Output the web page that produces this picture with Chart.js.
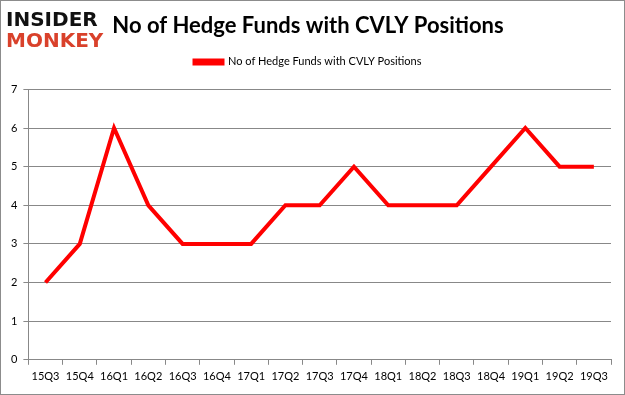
<!DOCTYPE html>
<html lang="en">
<head>
  <meta charset="UTF-8" />
  <title>No of Hedge Funds with CVLY Positions</title>
  <script src="https://cdn.jsdelivr.net/npm/chart.js"></script>
  <style>
    html, body { margin: 0; padding: 0; background: #fff; }
    #wrap {
      position: relative;
      width: 623px; height: 393px;
      border: 1px solid #8c8c8c;
      background: #fff;
    }
    #logo {
      position: absolute; left: 5px; top: 8px;
      font-family: "DejaVu Sans", sans-serif; font-weight: bold;
      font-size: 20px; line-height: 21px; letter-spacing: 0px;
    }
    #logo .a { color: #111; }
    #logo .b { color: #d9412b; }
    #grafico { position: absolute; left: 0; top: 0; }
  </style>
</head>
<body>

<div id="wrap">
  <canvas id="grafico" width="623" height="393"></canvas>
  <div id="logo"><div class="a">INSIDER</div><div class="b">MONKEY</div></div>
</div>

<script>
  const trimestres = ["15Q3","15Q4","16Q1","16Q2","16Q3","16Q4","17Q1","17Q2","17Q3","17Q4","18Q1","18Q2","18Q3","18Q4","19Q1","19Q2","19Q3"];
  const fundos = [2, 3, 6, 4, 3, 3, 3, 4, 4, 5, 4, 4, 4, 5, 6, 5, 5];
  const ticksY = [0, 1, 2, 3, 4, 5, 6, 7];
  const nomeSerie = "No of Hedge Funds with CVLY Positions";

  const fonte = "Lato, 'Open Sans', sans-serif";

  // espaço extra abaixo da legenda
  const espacoLegenda = {
    id: "espacoLegenda",
    beforeInit(chart) {
      const fitOriginal = chart.legend.fit;
      chart.legend.fit = function () {
        fitOriginal.bind(chart.legend)();
        this.height += 12;
      };
    }
  };

  const ctx = document.getElementById("grafico").getContext("2d");
  new Chart(ctx, {
    type: "line",
    data: {
      labels: trimestres,
      datasets: [{
        label: nomeSerie,
        data: fundos,
        borderColor: "#ff0000",
        backgroundColor: "#ff0000",
        borderWidth: 4,
        pointRadius: 0,
        tension: 0
      }]
    },
    options: {
      responsive: false,
      animation: false,
      layout: { padding: { left: 4, right: 13, top: 8, bottom: 6 } },
      plugins: {
        title: {
          display: true,
          text: nomeSerie,
          color: "#000",
          font: { family: fonte, size: 22, weight: "bold" },
          padding: { top: 4, bottom: 4 }
        },
        legend: {
          position: "top",
          labels: {
            color: "#000",
            font: { family: fonte, size: 11 },
            boxWidth: 28,
            boxHeight: 3,
            padding: 13
          }
        },
        tooltip: { enabled: false }
      },
      scales: {
        x: {
          offset: true,
          grid: {
            offset: true,
            drawOnChartArea: false,
            color: "#888",
            tickLength: 5
          },
          border: { color: "#888" },
          ticks: {
            color: "#000",
            font: { family: fonte, size: 11 },
            maxRotation: 0,
            autoSkip: false,
            padding: 5
          }
        },
        y: {
          min: ticksY[0],
          max: ticksY[ticksY.length - 1],
          afterBuildTicks: axis => { axis.ticks = ticksY.map(v => ({ value: v })); },
          grid: { color: "#888", tickLength: 5 },
          border: { color: "#888" },
          ticks: {
            color: "#000",
            font: { family: fonte, size: 11 },
            padding: 6
          }
        }
      }
    },
    plugins: [espacoLegenda]
  });
</script>

</body>
</html>
